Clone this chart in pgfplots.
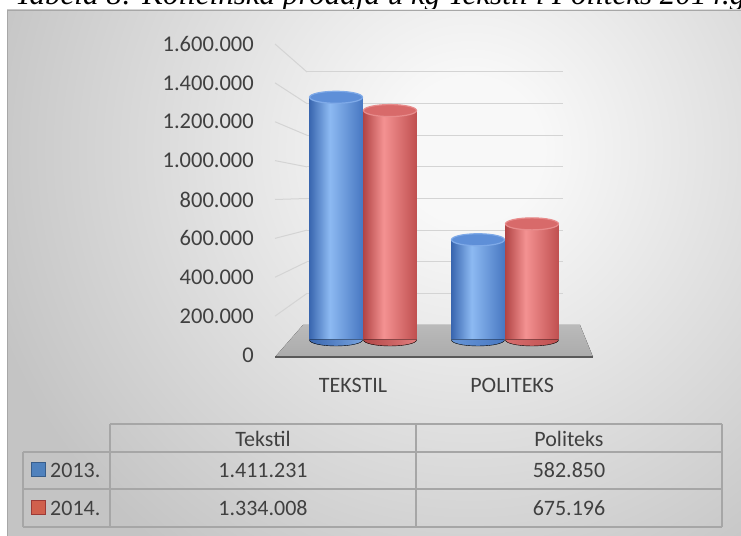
\documentclass[border=0pt]{standalone}
\usepackage{pgfplots}
\pgfplotsset{compat=1.18}
\usepackage{fontspec}
\setmainfont{Carlito}
\newfontfamily\titlefont{Liberation Serif}

\definecolor{txt}{HTML}{404040}
\definecolor{gridc}{HTML}{D4D4D4}
\definecolor{pwhite}{HTML}{F8F8F8}
\definecolor{pgray}{HTML}{C4C4C4}
\definecolor{bL}{HTML}{3A67B0}
\definecolor{bM}{HTML}{8DBAF2}
\definecolor{bR}{HTML}{4878C2}
\definecolor{rL}{HTML}{B24646}
\definecolor{rM}{HTML}{F49292}
\definecolor{rR}{HTML}{C05050}
\definecolor{btop}{HTML}{5E8FD8}
\definecolor{bedge}{HTML}{7FAAE8}
\definecolor{rtop}{HTML}{D86A6A}
\definecolor{redge}{HTML}{E88C8C}
\definecolor{tabline}{HTML}{A6A6A6}
\definecolor{legB}{HTML}{4F81BD}
\definecolor{legBd}{HTML}{385D8A}
\definecolor{legR}{HTML}{D0604D}
\definecolor{legRd}{HTML}{9C3A36}

\pgfdeclarehorizontalshading{cylB}{100bp}{color(0bp)=(bL); color(25bp)=(bL); color(44bp)=(bM); color(75bp)=(bR); color(100bp)=(bR)}
\pgfdeclarehorizontalshading{cylR}{100bp}{color(0bp)=(rL); color(25bp)=(rL); color(44bp)=(rM); color(75bp)=(rR); color(100bp)=(rR)}
\pgfdeclareradialshading{panelsh}{\pgfpoint{0bp}{0bp}}{color(0bp)=(pwhite); color(3bp)=(pwhite); color(21bp)=(pgray); color(25bp)=(pgray); color(50bp)=(pgray)}

\pgfdeclareplotmark{cyltop}{\pgfpathellipse{\pgfpointorigin}{\pgfpoint{26.5bp}{0bp}}{\pgfpoint{0bp}{6bp}}\pgfusepathqfillstroke}
\pgfdeclareplotmark{cylbotB}{\pgfpathmoveto{\pgfpoint{-26.5bp}{0.5bp}}\pgfpathlineto{\pgfpoint{-26.5bp}{0bp}}\pgfpatharc{180}{360}{26.5bp and 6bp}\pgfpathlineto{\pgfpoint{26.5bp}{0.5bp}}\pgfpathclose\pgfshadepath{cylB}{0}}
\pgfdeclareplotmark{cylbotR}{\pgfpathmoveto{\pgfpoint{-26.5bp}{0.5bp}}\pgfpathlineto{\pgfpoint{-26.5bp}{0bp}}\pgfpatharc{180}{360}{26.5bp and 6bp}\pgfpathlineto{\pgfpoint{26.5bp}{0.5bp}}\pgfpathclose\pgfshadepath{cylR}{0}}

\begin{document}
\begin{tikzpicture}
% title (partly cut by the page edge)
\node[anchor=base west, inner sep=0pt] at (15bp,531bp)
  {\resizebox{730bp}{!}{\titlefont\itshape Tabela 8: Količinska prodaja u kg Tekstil i Politeks 2014.g}};
% panel
\begin{scope}
\clip (7bp,0bp) rectangle (741bp,526bp);
\shade[shading=panelsh] (-130bp,-214bp) rectangle (1070bp,986bp);
\end{scope}
\draw[pgray!85!black, line width=0.8bp] (7bp,0bp) -- (7bp,526bp) -- (741bp,526bp);

% back wall gridlines
\begin{axis}[at={(307bp,211bp)}, anchor=south west, scale only axis,
  width=256bp, height=253bp, xmin=0, xmax=1, ymin=0, ymax=1600000,
  ytick={200000,400000,...,1600000}, xtick=\empty, yticklabels={},
  scaled y ticks=false,
  ymajorgrids, grid style={gridc, line width=1bp},
  axis line style={draw=none}, major tick length=0pt]
\end{axis}
\foreach \k in {1,...,8}
  \draw[gridc, line width=1bp] (275bp,{(181+38.875*\k)*1bp}) -- (307bp,{(211+31.625*\k)*1bp});

% floor
\fill[top color=black!27, bottom color=black!33] (275bp,179bp) -- (593bp,179bp) -- (580bp,211bp) -- (303bp,211bp) -- cycle;
\draw[black!65, line width=1.8bp] (275bp,179bp) -- (593bp,179bp);

% front tick labels
\begin{axis}[at={(254bp,181bp)}, anchor=south west, scale only axis,
  width=20bp, height=311bp, xmin=0, xmax=1, ymin=0, ymax=1600000,
  ytick={0,200000,...,1600000}, xtick=\empty, scaled y ticks=false,
  /pgf/number format/.cd, fixed, precision=0, 1000 sep={.}, assume math mode=true, /pgfplots/.cd,
  yticklabel style={anchor=east, inner sep=0pt, text=txt, font=\fontsize{22.5bp}{26bp}\selectfont},
  axis line style={draw=none}, major tick length=0pt]
\end{axis}

% cylinders
\begin{axis}[at={(275bp,196bp)}, anchor=south west, scale only axis,
  width=318bp, height=275.2bp, xmin=-0.62, xmax=1.62, ymin=0, ymax=1600000,
  ytick=\empty, xtick={-0.07,1.05}, xticklabels={TEKSTIL,POLITEKS},
  xticklabel style={anchor=center, yshift=-45bp, inner sep=0pt, text=txt, font=\fontsize{22bp}{26bp}\selectfont},
  axis line style={draw=none}, major tick length=0pt, clip=false]
% bottoms
\addplot[only marks, mark=cylbotB, mark options={xshift=-27bp}] coordinates {(0,0) (1,0)};
\addplot[only marks, mark=cylbotR, mark options={xshift=27bp}] coordinates {(0,0) (1,0)};
% bodies
\addplot[ybar, bar width=53bp, bar shift=-27bp, draw=none, shade, shading=cylB] coordinates {(0,1411231)};
\addplot[ybar, bar width=53bp, bar shift=-27bp, draw=none, shade, shading=cylB] coordinates {(1,582850)};
\addplot[ybar, bar width=53bp, bar shift=27bp, draw=none, shade, shading=cylR] coordinates {(0,1334008)};
\addplot[ybar, bar width=53bp, bar shift=27bp, draw=none, shade, shading=cylR] coordinates {(1,675196)};
% tops
\addplot[only marks, mark=cyltop, mark options={xshift=-27bp, fill=btop, draw=bedge, line width=1.2bp}] coordinates {(0,1411231) (1,582850)};
\addplot[only marks, mark=cyltop, mark options={xshift=27bp, fill=rtop, draw=redge, line width=1.2bp}] coordinates {(0,1334008) (1,675196)};
\end{axis}

% data table
\begin{scope}[tabline, line width=1.5bp]
\draw (110bp,112bp) -- (722bp,112bp);
\draw (23bp,84bp) -- (722bp,84bp);
\draw (23bp,47bp) -- (722bp,47bp);
\draw (23bp,9bp) -- (722bp,9bp);
\draw (23bp,84bp) -- (23bp,9bp);
\draw (110bp,112bp) -- (110bp,9bp);
\draw (416bp,112bp) -- (416bp,9bp);
\draw (722bp,112bp) -- (722bp,9bp);
\end{scope}
\begin{scope}[every node/.style={inner sep=0pt, text=txt, font=\fontsize{22bp}{26bp}\selectfont}]
\node[anchor=base] at (263bp,89bp) {Tekstil};
\node[anchor=base] at (569bp,89bp) {Politeks};
\node[anchor=base] at (263bp,58bp) {1.411.231};
\node[anchor=base] at (569bp,58bp) {582.850};
\node[anchor=base] at (263bp,21bp) {1.334.008};
\node[anchor=base] at (569bp,21bp) {675.196};
\node[anchor=base west] at (50bp,58bp) {2013.};
\node[anchor=base west] at (50bp,21bp) {2014.};
\end{scope}
\filldraw[fill=legB, draw=legBd, line width=1bp] (31bp,59bp) rectangle (45bp,73bp);
\filldraw[fill=legR, draw=legRd, line width=1bp] (31bp,21bp) rectangle (45bp,35bp);

\pgfresetboundingbox
\useasboundingbox (0bp,0bp) rectangle (741bp,536bp);
\end{tikzpicture}
\end{document}
